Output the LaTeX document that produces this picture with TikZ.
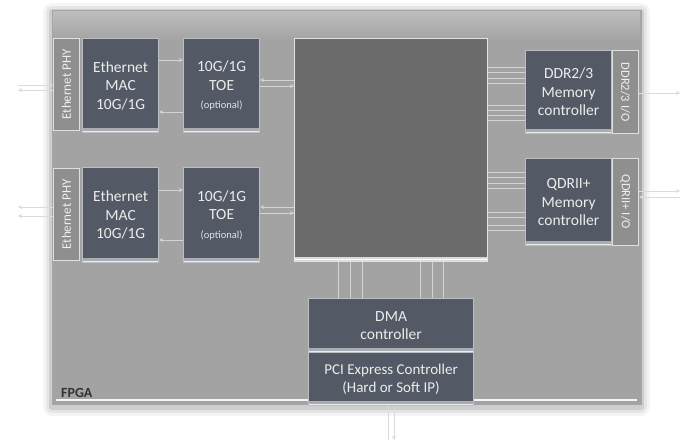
\documentclass[tikz,border=0pt]{standalone}
\usepackage{fontspec}
\setmainfont{Carlito}
\usetikzlibrary{calc,arrows.meta}
\definecolor{fpga}{HTML}{A3A3A3}
\definecolor{fpgatop}{HTML}{BEBEBE}
\definecolor{blk}{HTML}{545966}
\definecolor{blkedge}{HTML}{BCBEC2}
\definecolor{bevelc}{HTML}{A9ACB2}
\definecolor{corec}{HTML}{6C6C6C}
\definecolor{stripc}{HTML}{8F8F8F}
\definecolor{wire}{HTML}{D4D4D4}
\definecolor{txt}{HTML}{ECECEC}
\definecolor{lbl}{HTML}{333333}
\begin{document}
\begin{tikzpicture}[x=1pt,y=-1pt,
  blockbox/.style={fill=blk, draw=blkedge, line width=1.2pt, text=txt, align=center,
    font=\fontsize{15.5}{18.5}\selectfont, inner sep=0pt, anchor=north west,
    path picture={\fill[bevelc] (path picture bounding box.south west) rectangle ([yshift=5pt]path picture bounding box.south east);
      \draw[white!85!gray, line width=1pt] ([yshift=1.5pt]path picture bounding box.south west) -- ([yshift=1.5pt]path picture bounding box.south east);}},
  stripbox/.style={fill=stripc, draw=white!75!gray, line width=1pt, text=white!88!gray, inner sep=0pt,
    anchor=north west, font=\fontsize{13}{13}\selectfont},
  wireline/.style={draw=wire, line width=0.9pt},
  tip/.style={-{Stealth[length=4pt,width=4pt]}},
  extline/.style={draw=white!72!gray, line width=0.9pt}
]
\useasboundingbox (0,0) rectangle (686,442);
\fill[white] (0,0) rectangle (686,442);
% shadow of FPGA
\foreach \i/\o in {9/0.04,6/0.06,3/0.10}
  \fill[black, opacity=\o, rounded corners=\i] (52-\i,10-\i+2) rectangle (641+\i,404+\i+3);
% FPGA body
\node[fill=fpga, draw=gray!70, line width=0.8pt, minimum width=589, minimum height=394,
  inner sep=0pt, anchor=north west] (fpga) at (52,10) {};
\shade[top color=fpgatop, bottom color=fpga] (53,11) rectangle (640,40);
\draw[white!92!gray, line width=2pt] (56,400) -- (637,400);
\node[font=\bfseries\fontsize{14}{14}\selectfont, text=lbl, anchor=base west, inner sep=0pt] (fpgalbl) at (61,397) {FPGA};

% left column
\node[stripbox, minimum width=26, minimum height=92] (phy1) at (53,38) {};
\node[rotate=90, text=white!88!gray, font=\fontsize{13}{13}\selectfont] at (phy1.center) {Ethernet PHY};
\node[stripbox, minimum width=26, minimum height=92] (phy2) at (53,168) {};
\node[rotate=90, text=white!88!gray, font=\fontsize{13}{13}\selectfont] at (phy2.center) {Ethernet PHY};

\node[blockbox, minimum width=76, minimum height=94] (mac1) at (82,38) {Ethernet\\MAC\\10G/1G};
\node[blockbox, minimum width=76, minimum height=95] (mac2) at (82,167) {Ethernet\\MAC\\10G/1G};
\node[blockbox, minimum width=76, minimum height=94] (toe1) at (183,38)
  {10G/1G\\TOE\\{\fontsize{10.5}{13}\selectfont\color{white!78!gray}(optional)}};
\node[blockbox, minimum width=76, minimum height=95] (toe2) at (183,167)
  {10G/1G\\TOE\\{\fontsize{10.5}{13}\selectfont\color{white!78!gray}(optional)}};

% core
\node[fill=corec, draw=white!78!gray, line width=1.2pt, minimum width=193, minimum height=223,
  inner sep=0pt, anchor=north west,
  path picture={\fill[white!70!gray] (path picture bounding box.south west) rectangle ([yshift=5pt]path picture bounding box.south east);
    \draw[white, line width=1.2pt] ([yshift=2pt]path picture bounding box.south west) -- ([yshift=2pt]path picture bounding box.south east);}] (core) at (294,38) {};

% right column
\node[blockbox, minimum width=86, minimum height=83] (ddr) at (525,50) {DDR2/3\\Memory\\controller};
\node[stripbox, minimum width=26, minimum height=83] (ddrio) at (612,50) {};
\node[rotate=-90, text=white!88!gray, font=\fontsize{12.5}{13}\selectfont] at (ddrio.center) {DDR2/3 I/O};
\node[blockbox, minimum width=86, minimum height=87] (qdr) at (525,158) {QDRII+\\Memory\\controller};
\node[stripbox, minimum width=26, minimum height=87] (qdrio) at (612,158) {};
\node[rotate=-90, text=white!88!gray, font=\fontsize{12.5}{13}\selectfont] at (qdrio.center) {QDRII+ I/O};

% bottom
\node[blockbox, minimum width=165, minimum height=54] (dma) at (308,298) {DMA\\controller};
\node[blockbox, minimum width=165, minimum height=53, font=\fontsize{15}{18.5}\selectfont] (pcie) at (308,352)
  {PCI Express Controller\\(Hard or Soft IP)};

% MAC <-> TOE
\draw[wireline, tip] (mac1.east |- 0,60) -- (toe1.west |- 0,60);
\draw[wireline, tip] (toe1.west |- 0,112) -- (mac1.east |- 0,112);
\draw[wireline, tip] (mac2.east |- 0,190) -- (toe2.west |- 0,190);
\draw[wireline, tip] (toe2.west |- 0,240) -- (mac2.east |- 0,240);
% TOE <-> core
\draw[wireline, tip] (core.west |- 0,80) -- (toe1.east |- 0,80);
\draw[wireline, tip] (toe1.east |- 0,86) -- (core.west |- 0,86);
\draw[wireline, tip] (core.west |- 0,207) -- (toe2.east |- 0,207);
\draw[wireline, tip] (toe2.east |- 0,213) -- (core.west |- 0,213);
% core <-> DDR
\foreach \y in {67,72,78,83,105,110,115,120}
  \draw[wireline] (core.east |- 0,\y) -- (ddr.west |- 0,\y);
% core <-> QDR
\foreach \y in {172,177,183,188,212,217,225,230}
  \draw[wireline] (core.east |- 0,\y) -- (qdr.west |- 0,\y);
% core <-> DMA
\foreach \x in {338,350,362,420,432,443}
  \draw[wireline] (core.south -| \x,0) -- (dma.north -| \x,0);

% external connections
\coordinate (el1) at (18,85);
\coordinate (el2) at (18,90);
\coordinate (el3) at (18,207);
\coordinate (el4) at (18,216);
\draw[extline, tip] (el1) -- (phy1.west |- el1);
\draw[extline, tip] (phy1.west |- el2) -- (el2);
\draw[extline, tip] (phy2.west |- el3) -- (el3);
\draw[extline, tip] (phy2.west |- el4) -- (el4);
\coordinate (er1) at (680,93);
\coordinate (er2) at (680,191);
\coordinate (er3) at (680,197);
\draw[extline, tip] (ddrio.east |- er1) -- (er1);
\draw[extline, tip] (qdrio.east |- er2) -- (er2);
\draw[extline, tip] (er3) -- (qdrio.east |- er3);
\coordinate (eb1) at (388,440);
\coordinate (eb2) at (394,440);
\draw[extline] (pcie.south -| eb1) -- (eb1);
\draw[extline, tip] (pcie.south -| eb2) -- (eb2);
\end{tikzpicture}
\end{document}
